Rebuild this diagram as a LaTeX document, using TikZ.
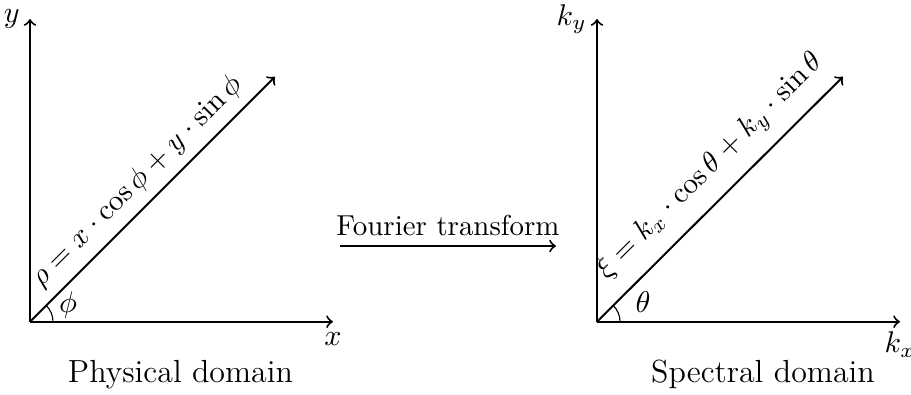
\documentclass[tikz,border=0pt]{standalone}
\usepackage{fix-cm}
\usetikzlibrary{arrows}
\begin{document}
\begin{tikzpicture}[x=0.3534pt,y=-0.3534pt,
  axis/.style={->,>=to,line width=0.7pt},
  anglearc/.style={line width=0.4pt},
  mathlab/.style={font=\fontsize{10.6}{12}\selectfont},
  formlab/.style={font=\fontsize{10.4}{12}\selectfont},
  domlab/.style={font=\fontsize{11.3}{13}\selectfont,anchor=base},
  ftlab/.style={font=\fontsize{10.2}{12}\selectfont}]
\useasboundingbox (0,0) rectangle (911,394);
% left
\coordinate (O1) at (30,321.7);
\coordinate (Y1) at (30,19);
\coordinate (X1) at (333,321.7);
\coordinate (D1) at (275,76.7);
\draw[axis] (O1) -- (Y1) node[left,mathlab] (ylab) {$y$};
\draw[axis] (O1) -- (X1) node[below,mathlab] (xlab) {$x$};
\draw[axis] (O1) -- (D1) node[pos=0.504,sloped,above,formlab] (rholab) {$\rho = x\cdot\cos\phi + y\cdot\sin\phi$};
\draw[anglearc] ([shift={(23,0)}]O1) arc[start angle=0,end angle=-45,radius=23];
\node[mathlab] (philab) at (68,305) {$\phi$};
\node[domlab] (phys) at (180.5,382) {Physical domain};
% middle
\coordinate (F1) at (340,246);
\coordinate (F2) at (556,246);
\draw[axis] (F1) -- (F2) node[midway,above,ftlab] (ft) {Fourier transform};
% right
\coordinate (O2) at (597,321.7);
\coordinate (Y2) at (597,19);
\coordinate (X2) at (900,321.7);
\coordinate (D2) at (843,76.7);
\draw[axis] (O2) -- (Y2) node[left,mathlab] (kylab) {$k_y$};
\draw[axis] (O2) -- (X2) node[below,mathlab] (kxlab) {$k_x$};
\draw[axis] (O2) -- (D2) node[pos=0.546,sloped,above=1.5pt,formlab] (xilab) {$\xi = k_x\cdot\cos\theta + k_y\cdot\sin\theta$};
\draw[anglearc] ([shift={(23,0)}]O2) arc[start angle=0,end angle=-45,radius=23];
\node[mathlab] (thlab) at (643,302) {$\theta$};
\node[domlab] (spec) at (763,382) {Spectral domain};
\end{tikzpicture}
\end{document}
